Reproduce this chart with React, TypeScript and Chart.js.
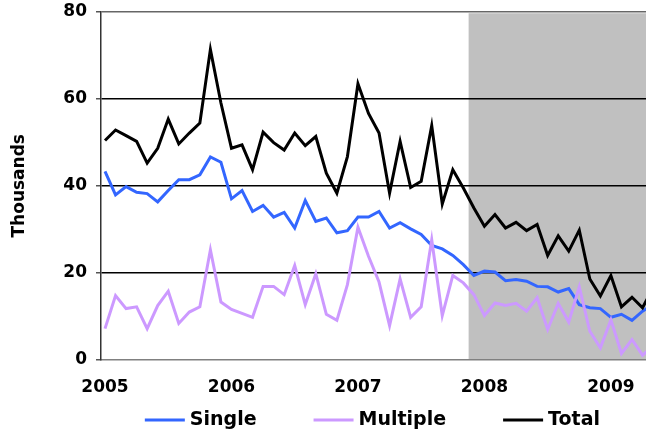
import React, { useEffect, useRef } from "react";
import { Chart, registerables } from "chart.js";

Chart.register(...registerables);

const yearLabels = ["2005", "2006", "2007", "2008", "2009"];
const yearTickIndex = [0, 12, 24, 36, 48];

const single = [
  43.3, 37.9, 39.8, 38.5, 38.2, 36.3, 38.9, 41.4, 41.4, 42.5,
  46.6, 45.4, 37.0, 38.9, 34.1, 35.5, 32.8, 33.9, 30.3, 36.6,
  31.8, 32.6, 29.2, 29.7, 32.8, 32.8, 34.1, 30.3, 31.5, 30.1,
  28.8, 26.3, 25.5, 24.0, 21.9, 19.4, 20.4, 20.2, 18.2, 18.5,
  18.1, 16.9, 16.8, 15.6, 16.4, 12.7, 12.0, 11.8, 9.8, 10.5,
  9.1, 11.2, 12.7,
];

const multiple = [
  7.2, 14.8, 11.8, 12.2, 7.2, 12.5, 15.8, 8.4, 11.0, 12.2,
  25.3, 13.3, 11.6, 10.7, 9.8, 16.9, 16.9, 15.0, 21.7, 12.7,
  19.8, 10.5, 9.1, 17.3, 30.5, 23.8, 17.9, 7.9, 18.6, 9.8,
  12.2, 27.6, 10.2, 19.4, 17.7, 15.0, 10.2, 13.1, 12.5, 13.0,
  11.2, 14.3, 7.0, 13.0, 8.7, 16.8, 6.6, 2.8, 9.2, 1.5,
  4.7, 1.1, 3.2,
];

const total = [
  50.4, 52.8, 51.5, 50.2, 45.2, 48.6, 55.3, 49.6, 52.1, 54.4,
  71.3, 59.0, 48.6, 49.4, 43.7, 52.3, 49.9, 48.2, 52.1, 49.2,
  51.3, 42.9, 38.3, 46.7, 63.4, 56.6, 52.1, 38.3, 50.2, 39.6,
  41.0, 53.8, 35.8, 43.7, 39.5, 34.9, 30.7, 33.4, 30.3, 31.6,
  29.7, 31.1, 24.0, 28.5, 25.0, 29.8, 18.6, 14.7, 19.4, 12.2,
  14.4, 12.0, 16.5,
];

// recession shading: from between Nov and Dec 2007 onward
const recessionStart = 34.5;

const FONT = "'DejaVu Sans', Verdana, sans-serif";

const toXY = (arr: number[]) => arr.map((v, i) => ({ x: i, y: v }));

const shadePlugin = {
  id: "shade",
  beforeDraw(chart: any) {
    const { ctx, chartArea, scales } = chart;
    const x0 = scales.x.getPixelForValue(recessionStart);
    const yTop = scales.y.getPixelForValue(79.6);
    const yBot = scales.y.getPixelForValue(0);
    ctx.save();
    ctx.fillStyle = "#c0c0c0";
    ctx.fillRect(x0, yTop, chartArea.right - x0, yBot - yTop);
    ctx.restore();
  },
};

// legend drawn below the x labels, right-aligned like the original
const legendPlugin = {
  id: "lineLegend",
  afterDraw(chart: any) {
    const { ctx } = chart;
    const sample = 40;
    const textGap = 5;
    const gap = 57;
    const rightEdge = 600;
    const yc = 420;
    ctx.save();
    ctx.font = `bold 19px ${FONT}`;
    ctx.textBaseline = "middle";
    const items = chart.data.datasets.map((ds: any) => ({
      label: ds.label,
      color: ds.borderColor,
      w: sample + textGap + ctx.measureText(ds.label).width,
    }));
    const totalW = items.reduce((s: number, it: any) => s + it.w, 0) + gap * (items.length - 1);
    let x = rightEdge - totalW;
    items.forEach((it: any) => {
      ctx.fillStyle = it.color;
      ctx.fillRect(x, yc - 1.5, sample, 3);
      ctx.fillStyle = "#000";
      ctx.textAlign = "left";
      ctx.fillText(it.label, x + sample + textGap, yc);
      x += it.w + gap;
    });
    ctx.restore();
  },
};

export default function App() {
  const ref = useRef<HTMLCanvasElement | null>(null);

  useEffect(() => {
    document.body.style.margin = "0";
    const canvas = ref.current;
    if (!canvas) return;
    const chart = new Chart(canvas, {
      type: "line",
      data: {
        datasets: [
          {
            label: "Single",
            data: toXY(single),
            borderColor: "#3366ff",
            backgroundColor: "#3366ff",
            borderWidth: 3,
            pointRadius: 0,
            tension: 0,
            order: 3,
          },
          {
            label: "Multiple",
            data: toXY(multiple),
            borderColor: "#cc99ff",
            backgroundColor: "#cc99ff",
            borderWidth: 3,
            pointRadius: 0,
            tension: 0,
            order: 2,
          },
          {
            label: "Total",
            data: toXY(total),
            borderColor: "#000000",
            backgroundColor: "#000000",
            borderWidth: 3,
            pointRadius: 0,
            tension: 0,
            order: 1,
          },
        ],
      },
      options: {
        responsive: false,
        animation: false,
        events: [],
        layout: { padding: { left: 0, right: 0, top: 11.5, bottom: 0 } },
        plugins: {
          tooltip: { enabled: false },
          legend: { display: false },
        },
        scales: {
          x: {
            type: "linear",
            min: -0.38,
            max: 51.33,
            afterBuildTicks: (scale: any) => {
              scale.ticks = yearTickIndex.map((v) => ({ value: v }));
            },
            afterFit: (scale: any) => {
              scale.height = 74;
              scale.paddingLeft = 0;
              scale.paddingRight = 0;
            },
            ticks: {
              color: "#000",
              font: { family: FONT, size: 17, weight: "bold" },
              padding: 17,
              maxRotation: 0,
              autoSkip: false,
              callback: (v: any) => {
                const k = yearTickIndex.indexOf(Number(v));
                return k >= 0 ? yearLabels[k] : "";
              },
            },
            grid: { display: false, drawTicks: false },
            border: { display: true, color: "#808080", width: 1.5 },
          },
          y: {
            min: 0,
            max: 80,
            afterFit: (scale: any) => {
              scale.width = 101;
              scale.paddingTop = 0;
              scale.paddingBottom = 0;
            },
            ticks: {
              stepSize: 20,
              color: "#000",
              padding: 9,
              font: { family: FONT, size: 17, weight: "bold" },
            },
            title: {
              display: true,
              text: "Thousands",
              color: "#000",
              font: { family: FONT, size: 17, weight: "bold" },
              padding: { top: 9, bottom: 0 },
            },
            grid: {
              drawTicks: true,
              tickLength: 5,
              tickColor: "#555",
              lineWidth: 1.5,
              color: (c: any) => {
                const v = c.tick && c.tick.value;
                if (v === 0) return "rgba(0,0,0,0)";
                if (v === 80) return "#666";
                return "#000";
              },
            },
            border: { display: true, color: "#333", width: 1.5 },
          },
        },
      },
      plugins: [shadePlugin, legendPlugin],
    });
    return () => chart.destroy();
  }, []);

  return <canvas ref={ref} width={646} height={434} style={{ display: "block" }} />;
}
